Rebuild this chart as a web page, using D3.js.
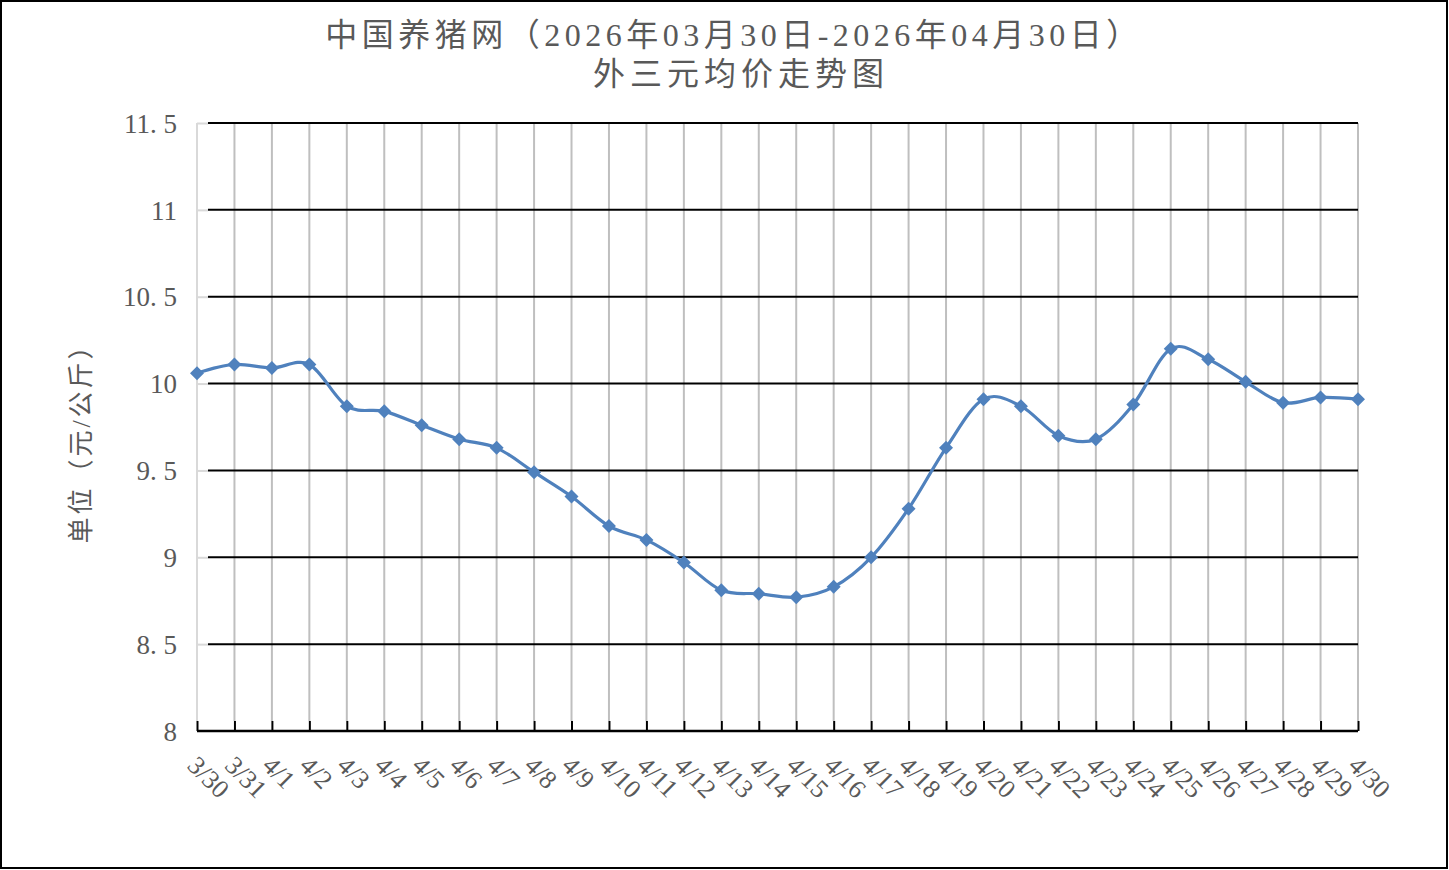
<!DOCTYPE html>
<html>
<head>
<meta charset="utf-8">
<script src="https://d3js.org/d3.v7.min.js"></script>
<style>
    body { margin: 0; background: #fff; }
    svg { display: block; }
</style>
</head>
<body>
<svg width="1449" height="870"></svg>
<script>
    // dates and price values (yuan / kg)
    var dates = ["3/30", "3/31", "4/1", "4/2", "4/3", "4/4", "4/5", "4/6", "4/7", "4/8",
        "4/9", "4/10", "4/11", "4/12", "4/13", "4/14", "4/15", "4/16", "4/17", "4/18",
        "4/19", "4/20", "4/21", "4/22", "4/23", "4/24", "4/25", "4/26", "4/27", "4/28",
        "4/29", "4/30"];
    var prices = [10.06, 10.11, 10.09, 10.11, 9.87, 9.84, 9.76, 9.68, 9.63, 9.49,
        9.35, 9.18, 9.10, 8.97, 8.81, 8.79, 8.77, 8.83, 9.00, 9.28,
        9.63, 9.91, 9.87, 9.70, 9.68, 9.88, 10.20, 10.14, 10.01, 9.89,
        9.92, 9.91];
    var yTicks = [8, 8.5, 9, 9.5, 10, 10.5, 11, 11.5];
    var yTickLabels = ["8", "8. 5", "9", "9. 5", "10", "10. 5", "11", "11. 5"];

    var svg = d3.select("svg");
    var grey = "#595959";
    var latin = "'Liberation Serif', 'DejaVu Serif', serif";
    var cjk = "'Liberation Serif', 'Noto Sans CJK SC', serif";

    // outer frame
    svg.append("rect")
        .attr("x", 1).attr("y", 1)
        .attr("width", 1446).attr("height", 867)
        .attr("fill", "#fff")
        .attr("stroke", "#000")
        .attr("stroke-width", 2);

    var x = d3.scalePoint()
        .domain(d3.range(dates.length))
        .range([197, 1358]);

    var y = d3.scaleLinear()
        .domain([8, 11.5])
        .range([731, 123]);

    // vertical grid (one per category)
    svg.append("g")
        .selectAll("line")
        .data(d3.range(dates.length))
        .enter().append("line")
        .attr("x1", function(d) { return x(d); })
        .attr("x2", function(d) { return x(d); })
        .attr("y1", y(11.5))
        .attr("y2", y(8) - 10)
        .attr("stroke", function(d) { return d == 0 ? "#d9d9d9" : "#bfbfbf"; })
        .attr("stroke-width", 2);

    // horizontal grid
    svg.append("g")
        .selectAll("line")
        .data(yTicks.slice(1))
        .enter().append("line")
        .attr("x1", x(0) + 11)
        .attr("x2", x(dates.length - 1))
        .attr("y1", function(d) { return y(d); })
        .attr("y2", function(d) { return y(d); })
        .attr("stroke", "#000")
        .attr("stroke-width", 2);

    // y axis (light grey, inner ticks)
    var yAxis = svg.append("g")
        .attr("transform", "translate(" + x(0) + ",0)")
        .call(d3.axisRight(y).tickValues(yTicks.slice(1)).tickSize(11).tickFormat(""));
    yAxis.select(".domain").remove();
    yAxis.selectAll(".tick line").attr("stroke", "#d9d9d9").attr("stroke-width", 2);

    svg.append("g")
        .selectAll("text")
        .data(yTicks)
        .enter().append("text")
        .attr("x", 177)
        .attr("y", function(d) { return y(d); })
        .attr("dy", "0.36em")
        .attr("text-anchor", "end")
        .attr("fill", grey)
        .attr("font-family", latin)
        .attr("font-size", 27)
        .text(function(d, i) { return yTickLabels[i]; });

    // x axis, black, ticks pointing up
    var xAxis = svg.append("g")
        .attr("transform", "translate(0," + y(8) + ")")
        .call(d3.axisTop(x).tickSize(10).tickSizeOuter(0).tickFormat(""));
    xAxis.select(".domain").attr("stroke", "#000").attr("stroke-width", 2.5)
        .attr("d", "M" + x(0) + ",0H" + x(dates.length - 1));
    xAxis.selectAll(".tick line").attr("stroke", "#000").attr("stroke-width", 2);

    // rotated date labels
    svg.append("g")
        .selectAll("text")
        .data(dates)
        .enter().append("text")
        .attr("transform", function(d, i) {
            return "translate(" + (x(i) - 11) + ",767) rotate(45)";
        })
        .attr("fill", grey)
        .attr("font-family", latin)
        .attr("font-size", 26)
        .text(function(d) { return d; });

    // line + markers
    var line = d3.line()
        .x(function(d, i) { return x(i); })
        .y(function(d) { return y(d); })
        .curve(d3.curveCardinal.tension(0));

    svg.append("path")
        .datum(prices)
        .attr("fill", "none")
        .attr("stroke", "#4f81bd")
        .attr("stroke-width", 3.2)
        .attr("d", line);

    svg.append("g")
        .selectAll("path")
        .data(prices)
        .enter().append("path")
        .attr("transform", function(d, i) { return "translate(" + x(i) + "," + y(d) + ")"; })
        .attr("d", "M0,-7L7,0L0,7L-7,0Z")
        .attr("fill", "#4f81bd");

    // titles
    svg.append("text")
        .attr("x", 734)
        .attr("y", 46)
        .attr("text-anchor", "middle")
        .attr("fill", grey)
        .attr("font-family", cjk)
        .attr("font-size", 32)
        .attr("letter-spacing", 4.5)
        .text("中国养猪网（2026年03月30日-2026年04月30日）");

    svg.append("text")
        .attr("x", 741)
        .attr("y", 85)
        .attr("text-anchor", "middle")
        .attr("fill", grey)
        .attr("font-family", cjk)
        .attr("font-size", 32)
        .attr("letter-spacing", 5)
        .text("外三元均价走势图");

    svg.append("text")
        .attr("transform", "translate(90,437) rotate(-90)")
        .attr("text-anchor", "middle")
        .attr("fill", grey)
        .attr("font-family", cjk)
        .attr("font-size", 26)
        .attr("letter-spacing", 3)
        .text("单位（元/公斤）");
</script>
</body>
</html>
